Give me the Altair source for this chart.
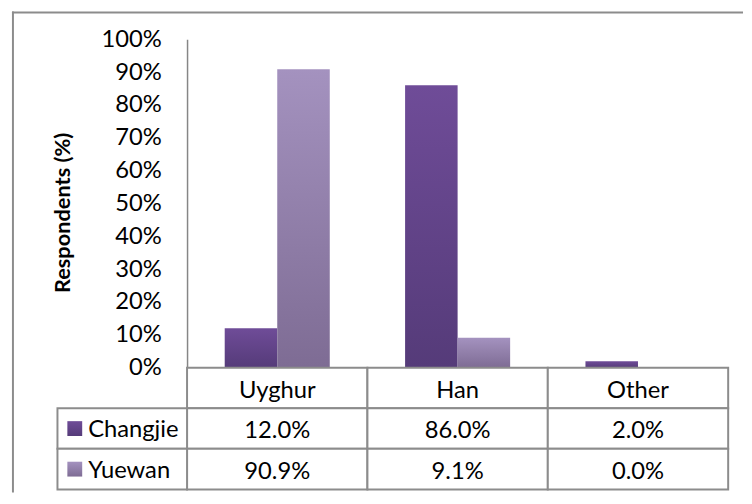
import altair as alt
import pandas as pd

categories = ["Uyghur", "Han", "Other"]
series = ["Changjie", "Yuewan"]
changjie = [0.120, 0.860, 0.020]
yuewan = [0.909, 0.091, 0.000]
y_ticks = [0.0, 0.1, 0.2, 0.3, 0.4, 0.5, 0.6, 0.7, 0.8, 0.9, 1.0]
table_rows = ["header", "Changjie", "Yuewan"]

FONT = "Lato"
GRID = "#8c8c8c"
FS = 24

rows = []
for c, a, b in zip(categories, changjie, yuewan):
    rows.append({"category": c, "series": "Changjie", "value": a})
    rows.append({"category": c, "series": "Yuewan", "value": b})
df = pd.DataFrame(rows)

cells = []
for c, a, b in zip(categories, changjie, yuewan):
    cells.append({"category": c, "row": "header", "text": c})
    cells.append({"category": c, "row": "Changjie", "text": f"{a*100:.1f}%"})
    cells.append({"category": c, "row": "Yuewan", "text": f"{b*100:.1f}%"})
cells_df = pd.DataFrame(cells)
labels_df = pd.DataFrame({"row": series})
one = pd.DataFrame({"k": [0]})


def grad(top, bottom):
    return alt.Gradient(
        gradient="linear",
        stops=[alt.GradientStop(color=top, offset=0), alt.GradientStop(color=bottom, offset=1)],
        x1=0, x2=0, y1=0, y2=1,
    )


fills = {"Changjie": grad("#6f4c98", "#553b79"), "Yuewan": grad("#a492bf", "#7e6c94")}

x_enc = alt.X("category:N", sort=categories,
              scale=alt.Scale(domain=categories, paddingInner=0, paddingOuter=0), axis=None)
xo_enc = alt.XOffset("series:N", scale=alt.Scale(domain=series, paddingInner=0, paddingOuter=0.717))
y_enc = alt.Y("value:Q", scale=alt.Scale(domain=[0, 1]),
              axis=alt.Axis(values=y_ticks, format=".0%", grid=False, ticks=False,
                            domainColor="#868686", domainWidth=1.5,
                            labelFont=FONT, labelFontSize=FS, labelColor="black", labelPadding=26,
                            title="Respondents (%)", titleFont=FONT, titleFontSize=22,
                            titleFontWeight="bold", titleColor="black", titlePadding=27,
                            titleY=175))

bar_layers = []
for s in series:
    bar_layers.append(
        alt.Chart(df).transform_filter(alt.datum.series == s)
        .mark_bar(fill=fills[s])
        .encode(x=x_enc, xOffset=xo_enc, y=y_enc)
    )

# outer chart frame (top and left edges; the rest lies outside the picture)
frame_top = alt.Chart(one).mark_rule(color=GRID, strokeWidth=2).encode(
    x=alt.value(-177), x2=alt.value(562), y=alt.value(-27), y2=alt.value(-27))
frame_left = alt.Chart(one).mark_rect(fill=GRID, strokeWidth=0).encode(
    x=alt.value(-177), x2=alt.value(-175), y=alt.value(-28), y2=alt.value(458))

top = alt.layer(*bar_layers, frame_top, frame_left).properties(width=547, height=332)

tx = alt.X("category:N", sort=categories,
           scale=alt.Scale(domain=categories, paddingInner=0, paddingOuter=0), axis=None)
ty = alt.Y("row:N", sort=table_rows,
           scale=alt.Scale(domain=table_rows, paddingInner=0, paddingOuter=0), axis=None)

cell_rect = alt.Chart(cells_df).mark_rect(fill="white", stroke=GRID, strokeWidth=2).encode(x=tx, y=ty)
cell_text = alt.Chart(cells_df).mark_text(font=FONT, fontSize=FS, color="black", baseline="middle",
                                          dy=3).encode(x=tx, y=ty, text="text:N")
label_rect = alt.Chart(labels_df).mark_rect(fill="white", stroke=GRID, strokeWidth=2).encode(
    x=alt.value(-131), x2=alt.value(0), y=ty)
label_text = alt.Chart(labels_df).mark_text(font=FONT, fontSize=FS, color="black", align="left",
                                            baseline="middle", dy=2).encode(
    x=alt.value(-100), y=ty, text="row:N")
swatches = []
for s in series:
    swatches.append(
        alt.Chart(labels_df).transform_filter(alt.datum.row == s)
        .mark_square(shape="square", size=225, fill=fills[s], opacity=1, strokeWidth=0)
        .encode(x=alt.value(-113.5), y=ty)
    )

table = alt.layer(cell_rect, cell_text, label_rect, label_text, *swatches).properties(
    width=547, height=123)

chart = alt.vconcat(top, table, spacing=0, bounds="flush").properties(
    padding={"left": 3, "top": 1, "right": 0, "bottom": 0}
).configure_view(strokeWidth=0)

chart.save("out.html", embed_options={"renderer": "svg", "actions": False})
